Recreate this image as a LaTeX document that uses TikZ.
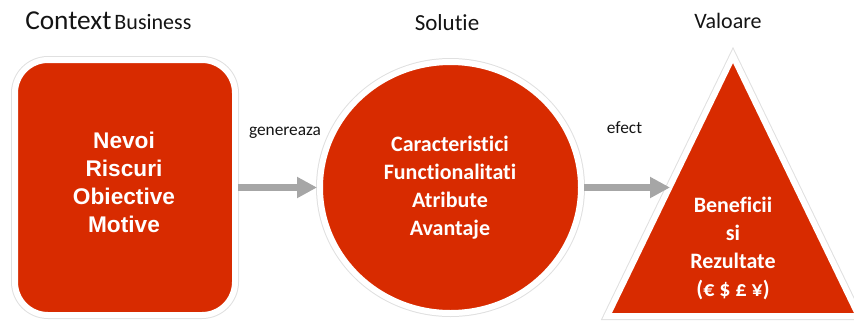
\documentclass[tikz,border=0pt]{standalone}
\usepackage{fontspec}
\setmainfont{Carlito}[Ligatures=NoCommon]
\newfontfamily\arialfont{Liberation Sans}
\usetikzlibrary{shapes.geometric,arrows.meta}
\definecolor{rojo}{RGB}{216,43,0}
\definecolor{gris}{RGB}{166,166,166}
\definecolor{texto}{RGB}{20,20,20}

\begin{document}
\begin{tikzpicture}[x=0.75pt, y=-0.75pt,
  forma/.style={fill=rojo, draw=white, line width=4.5pt, inner sep=0pt,
    preaction={draw=black!12, line width=6pt}},
  blanco/.style={text=white, align=center, inner sep=0pt,
    font=\bfseries\fontsize{16.5}{21}\selectfont},
  titulo/.style={text=texto, anchor=base, inner sep=0pt},
  etiqueta/.style={text=texto, anchor=base, inner sep=0pt,
    font=\fontsize{13}{15}\selectfont},
  flecha/.style={draw=gris, line width=5.25pt,
    -{Triangle[length=15pt, width=15pt]}}]
  \useasboundingbox (0,0) rectangle (854,322);

  % Contexto
  \node[forma, rounded corners=24.75pt, minimum width=165pt,
    minimum height=191.25pt] (caja) at (125,187.5) {};
  \node[blanco, font=\arialfont\bfseries\fontsize{17}{21}\selectfont]
    (caja-t) at (124,182.5) {Nevoi\\Riscuri\\Obiective\\Motive};

  % Solutie
  \node[forma, ellipse, minimum width=195.75pt, minimum height=188.25pt]
    (sol) at (450.5,187.5) {};
  \node[blanco] (sol-t) at (450,188)
    {Caracteristici\\Functionalitati\\Atribute\\Avantaje};

  % Valoare
  \draw[forma] (733,56.1) -- (607.2,316) -- (858.8,316) -- cycle;
  \coordinate (val-in) at (670,187.5);
  \node[blanco] (val-t) at (733,248) {Beneficii\\si\\Rezultate\\(€ \$ £ ¥)};

  % Flechas
  \draw[flecha] (caja) -- (sol);
  \draw[flecha] (sol) -- (val-in);

  % Titulos y etiquetas
  \node[titulo, anchor=base west] (t-ctx) at (25,29)
    {{\fontsize{20.5}{22}\selectfont Context} {\fontsize{16.5}{18}\selectfont Business}};
  \node[titulo, font=\fontsize{17.25}{20}\selectfont] (t-sol) at (447,30.7) {Solutie};
  \node[titulo, font=\fontsize{16.5}{20}\selectfont] (t-val) at (728,28) {Valoare};
  \node[etiqueta] (l-gen) at (285,135) {genereaza};
  \node[etiqueta] (l-efe) at (624.5,133) {efect};
\end{tikzpicture}
\end{document}
